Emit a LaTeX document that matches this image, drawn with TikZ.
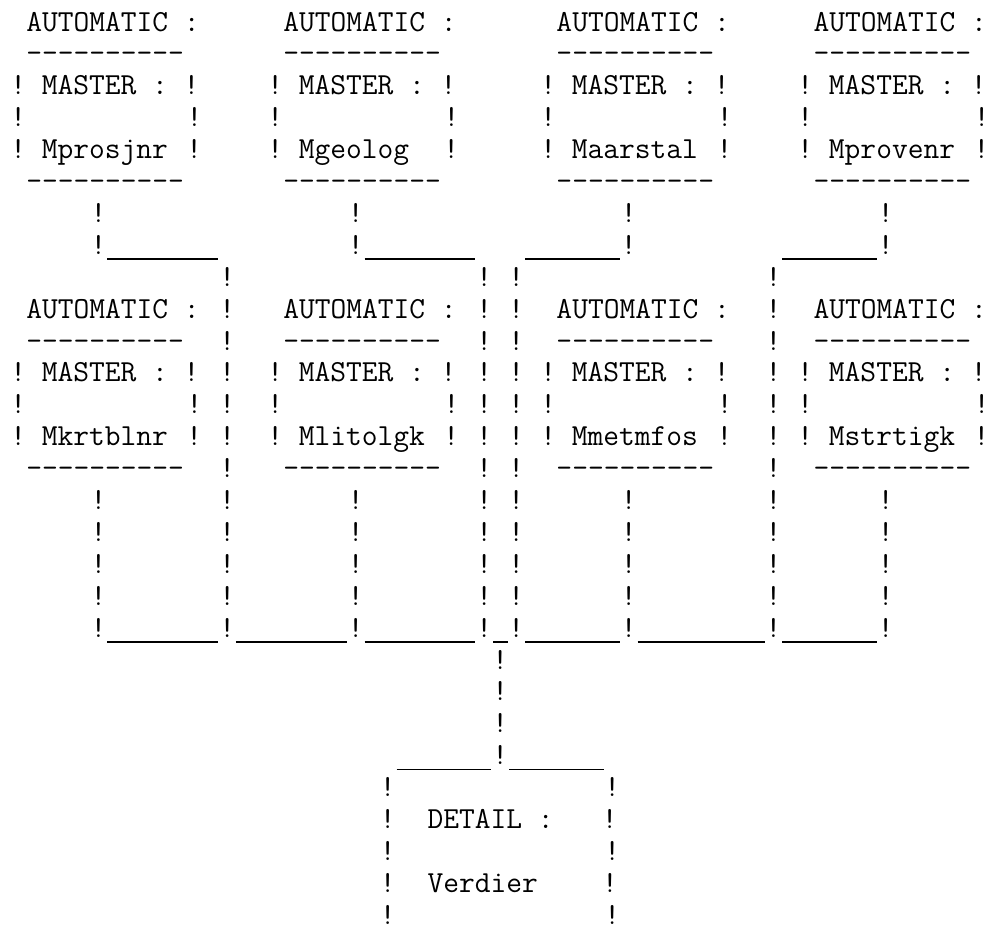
\documentclass[tikz,border=0pt]{standalone}
\usetikzlibrary{positioning}

\newlength\cw
\setlength\cw{8.0325pt} % one typewriter column
\newcommand\boxfont{\fontsize{15.3}{15.95}\selectfont\ttfamily\frenchspacing}
\newcommand\gap[1]{\hspace*{#1\cw}}
\newcommand\dashes{\foreach\i in {1,...,10}{-\kern0pt}}
% a run of #1 underscores, printed as one unbroken stroke
\newcommand\unders[1]{\hspace*{0.4pt}\rule[-2.8pt]{\dimexpr#1\cw-0.8pt\relax}{0.9pt}\hspace*{0.4pt}}

\tikzset{
    x=8.0325pt, % one column of the printout
    y=-15.95pt, % one printed line, counted downwards
    every node/.style={font=\boxfont, inner sep=0pt, outer sep=0pt}, % typewriter text everywhere
    masterbox/.style={anchor=base west}, % an AUTOMATIC / MASTER block
    bang/.style={anchor=base}, % one "!" of a connector
    lowline/.style={anchor=base west}, % a run of underscores
}

% #1 name, #2 column, #3 line, #4 label
\newcommand\master[4]{%
    \node[masterbox] (#1) at (#2-0.5,#3) {\vtop{\baselineskip=15.95pt \lineskiplimit=-20pt
        \hbox{\gap{1}AUTOMATIC :}
        \hbox{\gap{1}\dashes}
        \hbox{! MASTER : !}
        \hbox{!\gap{10}!}
        \hbox{! \makebox[9\cw][l]{#4}!}
        \hbox{\gap{1}\dashes}}};}

\begin{document}
\begin{tikzpicture}

        \useasboundingbox (-1.139,0.028) rectangle (60.67,29.06);

        % Nodes
        \master{prosjnr}{0}{1}{Mprosjnr}
        \master{geolog}{16}{1}{Mgeolog}
        \master{aarstal}{33}{1}{Maarstal}
        \master{provenr}{49}{1}{Mprovenr}

        \master{krtblnr}{0}{10}{Mkrtblnr}
        \master{litolgk}{16}{10}{Mlitolgk}
        \master{metmfos}{33}{10}{Mmetmfos}
        \master{strtigk}{49}{10}{Mstrtigk}

        \node[masterbox] (verdier) at (22.5,25) {\vtop{\baselineskip=15.95pt \lineskiplimit=-20pt
            \hbox{!\gap{13}!}
            \hbox{!\gap{2}DETAIL :\gap{3}!}
            \hbox{!\gap{13}!}
            \hbox{!\gap{2}Verdier\gap{4}!}
            \hbox{!\gap{13}!}}};

        % edges
        % stems below the upper blocks
        \foreach \c in {5,21,38,54}
            \foreach \r in {7,8}
                \node[bang] (stem-\c-\r) at (\c,\r) {!};
        \foreach \c/\n in {6/7,22/7,32/6,48/6}
            \node[lowline] (elbow-\c) at (\c-0.5,8) {\unders{\n}};

        % long drops past the lower blocks
        \foreach \c in {13,29,31,47}
            \foreach \r in {9,...,20}
                \node[bang] (drop-\c-\r) at (\c,\r) {!};

        % stems below the lower blocks
        \foreach \c in {5,21,38,54}
            \foreach \r in {16,...,20}
                \node[bang] (foot-\c-\r) at (\c,\r) {!};
        \foreach \c/\n in {6/7,14/7,22/7,30/1,32/6,39/8,48/6}
            \node[lowline] (bus-\c) at (\c-0.5,20) {\unders{\n}};

        % trunk down to the detail block
        \foreach \r in {21,...,24}
            \node[bang] (trunk-\r) at (30,\r) {!};
        \foreach \c in {24,31}
            \node[lowline] (cap-\c) at (\c-0.5,24) {\unders{6}};

    \end{tikzpicture}
\end{document}
